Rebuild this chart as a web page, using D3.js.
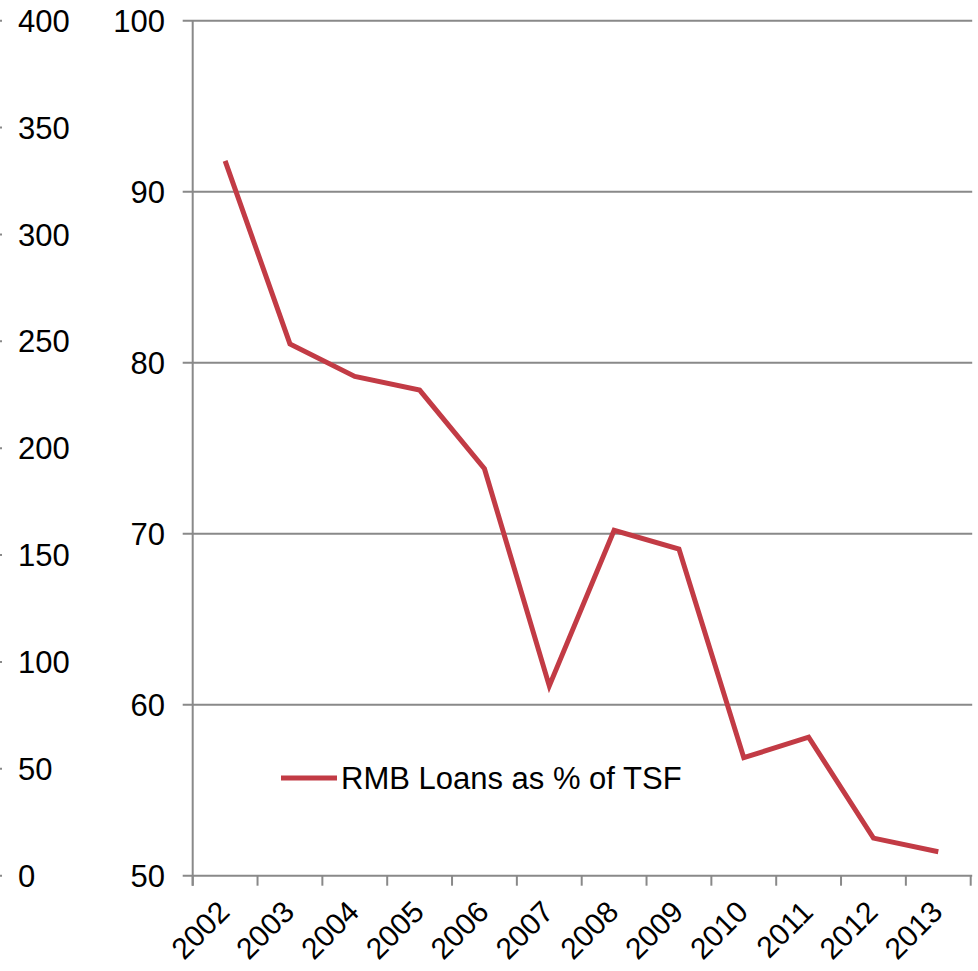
<!DOCTYPE html>
<html>
<head>
<meta charset="utf-8">
<script src="https://cdn.jsdelivr.net/npm/d3@7/dist/d3.min.js"></script>
<style>
  html, body { margin: 0; padding: 0; background: #fff; }
  svg { display: block; }
  text { font-family: "Liberation Sans", Arial, sans-serif; fill: #000; }
</style>
</head>
<body>
<script>
const years = ["2002","2003","2004","2005","2006","2007","2008","2009","2010","2011","2012","2013"];
const loanShare = [91.8, 81.1, 79.2, 78.4, 73.8, 61.1, 70.2, 69.1, 56.9, 58.1, 52.2, 51.4];
const seriesName = "RMB Loans as % of TSF";
const leftTicks = [0, 50, 100, 150, 200, 250, 300, 350, 400];
const rightTicks = [50, 60, 70, 80, 90, 100];

const W = 978, H = 971;
const plotLeft = 192.7, plotRight = 970.7, plotTop = 20.7, plotBottom = 875.7;
const gridColor = "#898989";
const lineColor = "#C23B45";

const svg = d3.select("body").append("svg").attr("width", W).attr("height", H);

const x = d3.scaleBand().domain(years).range([plotLeft, plotRight]).padding(0);
const y = d3.scaleLinear().domain([50, 100]).range([plotBottom, plotTop]);
const yLeft = d3.scaleLinear().domain([0, 400]).range([plotBottom, plotTop]);

// gridlines + inner axis ticks
const grid = svg.append("g");
rightTicks.forEach(v => {
  grid.append("line")
    .attr("x1", plotLeft - 10).attr("x2", plotRight + 1.5)
    .attr("y1", y(v)).attr("y2", y(v))
    .attr("stroke", gridColor).attr("stroke-width", 2);
  svg.append("text")
    .attr("x", 165).attr("y", y(v)).attr("dy", "0.36em")
    .attr("text-anchor", "end").attr("font-size", 31)
    .text(v);
});

// vertical axis line
svg.append("line")
  .attr("x1", plotLeft).attr("x2", plotLeft)
  .attr("y1", plotTop).attr("y2", plotBottom + 10)
  .attr("stroke", gridColor).attr("stroke-width", 2);

// x axis ticks at category boundaries
const bounds = years.map(d => x(d)).concat([x.range()[1]]);
bounds.forEach(b => {
  svg.append("line")
    .attr("x1", b).attr("x2", b)
    .attr("y1", plotBottom).attr("y2", plotBottom + 10)
    .attr("stroke", gridColor).attr("stroke-width", 2);
});

// x labels rotated
years.forEach(d => {
  const cx = x(d) + x.bandwidth() / 2;
  svg.append("text")
    .attr("transform", `translate(${cx - 9},${plotBottom + 23}) rotate(-45)`)
    .attr("text-anchor", "end").attr("dy", "0.71em")
    .attr("font-size", 30)
    .text(d);
});

// left (outer) axis
leftTicks.forEach(v => {
  svg.append("line")
    .attr("x1", -6).attr("x2", 2)
    .attr("y1", yLeft(v)).attr("y2", yLeft(v))
    .attr("stroke", gridColor).attr("stroke-width", 2);
  svg.append("text")
    .attr("x", 18).attr("y", yLeft(v)).attr("dy", "0.36em")
    .attr("text-anchor", "start").attr("font-size", 31)
    .text(v);
});

// line
const line = d3.line()
  .x((d, i) => x(years[i]) + x.bandwidth() / 2)
  .y(d => y(d));
svg.append("path")
  .datum(loanShare)
  .attr("d", line)
  .attr("fill", "none")
  .attr("stroke", lineColor)
  .attr("stroke-width", 5)
  .attr("stroke-linejoin", "miter");

// legend
svg.append("line")
  .attr("x1", 281).attr("x2", 337).attr("y1", 778).attr("y2", 778)
  .attr("stroke", lineColor).attr("stroke-width", 5);
svg.append("text")
  .attr("x", 341).attr("y", 788.5)
  .attr("font-size", 31)
  .text(seriesName);
</script>
</body>
</html>
